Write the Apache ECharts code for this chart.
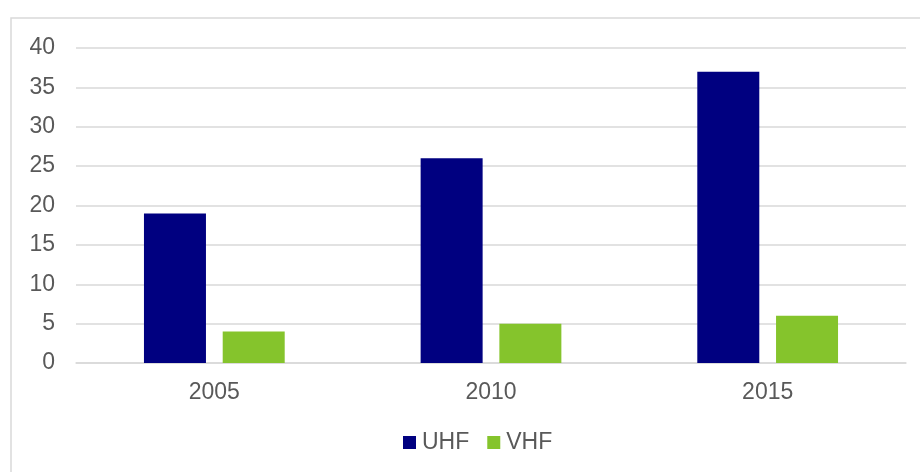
<!DOCTYPE html>
<html>
<head>
<meta charset="utf-8">
<script src="https://cdn.jsdelivr.net/npm/echarts@6/dist/echarts.min.js"></script>
<style>
  html, body { margin: 0; padding: 0; background: #fff; }
  #chart { width: 920px; height: 472px; }
</style>
</head>
<body>
<div id="chart"></div>
<script>
// 数据
const years = ['2005', '2010', '2015'];
const uhfValues = [19, 26, 37];
const vhfValues = [4, 5, 6];
const yTicks = { min: 0, max: 40, interval: 5 };

document.addEventListener('DOMContentLoaded', function() {
    const myChart = echarts.init(document.getElementById('chart'));
    const textColor = '#595959';
    const font = '"Liberation Sans", Arial, sans-serif';

    const option = {
        backgroundColor: '#fff',
        animation: false,
        textStyle: { fontFamily: font },
        // 外边框
        graphic: [{
            type: 'rect',
            shape: { x: 11, y: 18, width: 1200, height: 1000 },
            style: { fill: 'none', stroke: '#d9d9d9', lineWidth: 1.5 },
            silent: true
        }],
        grid: { left: 76, right: 14, top: 48, bottom: 109 },
        legend: {
            left: 398,
            top: 426,
            itemWidth: 13,
            itemHeight: 13,
            itemGap: 18,
            icon: 'rect',
            textStyle: { color: textColor, fontSize: 23, fontFamily: font, padding: [0, 0, 0, 1] },
            data: ['UHF', 'VHF']
        },
        xAxis: {
            type: 'category',
            data: years,
            axisLine: { show: true, lineStyle: { color: '#d9d9d9', width: 1.5 } },
            axisTick: { show: false },
            axisLabel: { color: textColor, fontSize: 23, margin: 18, fontFamily: font }
        },
        yAxis: {
            type: 'value',
            min: yTicks.min,
            max: yTicks.max,
            interval: yTicks.interval,
            axisLine: { show: false },
            axisTick: { show: false },
            splitLine: { lineStyle: { color: '#d9d9d9', width: 1.5 } },
            axisLabel: { color: textColor, fontSize: 23, margin: 21, fontFamily: font }
        },
        series: [
            {
                name: 'UHF',
                type: 'bar',
                data: uhfValues,
                barWidth: 62,
                barGap: '27%',
                itemStyle: { color: '#000080' }
            },
            {
                name: 'VHF',
                type: 'bar',
                data: vhfValues,
                barWidth: 62,
                itemStyle: { color: '#85c42c' }
            }
        ]
    };
    myChart.setOption(option);
});
</script>
</body>
</html>
